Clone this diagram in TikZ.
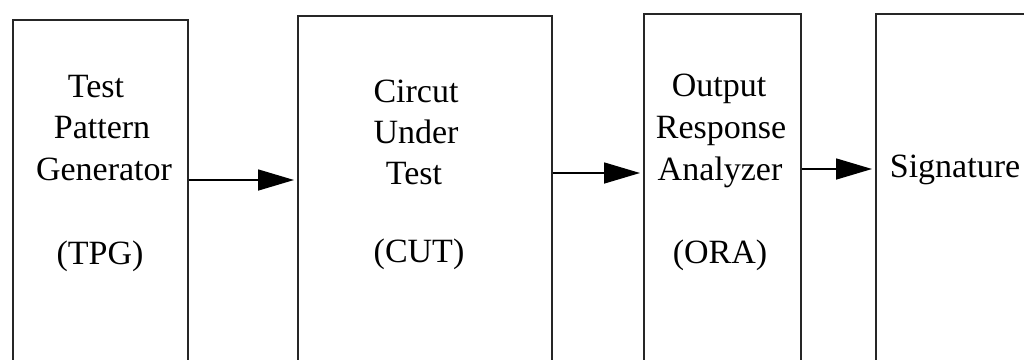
\documentclass[tikz,border=0pt]{standalone}
\usepackage{fontspec}
\setmainfont{Liberation Serif}
\usetikzlibrary{arrows.meta}
\begin{document}
\begin{tikzpicture}[x=1pt,y=-1pt,
  blk/.style={draw=black!85, line width=2pt, anchor=north west, minimum height=420pt, inner sep=0pt},
  lbl/.style={anchor=base, inner sep=0pt, font=\fontsize{34}{41}\selectfont},
  arr/.style={line width=1.6pt, -{Triangle[length=36pt,width=21pt]}}]
\useasboundingbox (0,0) rectangle (1024,359);
\clip (0,0) rectangle (1024,359);
\node[blk, minimum width=175pt] (tpg) at (12,19) {};
\node[blk, minimum width=254pt] (cut) at (297,15) {};
\node[blk, minimum width=157pt] (ora) at (643,13) {};
\node[blk, minimum width=200pt] (sig) at (875,13) {};
% labels
\node[lbl] (t1) at (96,97) {Test};
\node[lbl] (t2) at (102,138) {Pattern};
\node[lbl] (t3) at (104,180) {Generator};
\node[lbl] (t4) at (100,264) {(TPG)};
\node[lbl] (c1) at (416,102) {Circut};
\node[lbl] (c2) at (416,143) {Under};
\node[lbl] (c3) at (414,184) {Test};
\node[lbl] (c4) at (419,262) {(CUT)};
\node[lbl] (o1) at (719,96) {Output};
\node[lbl] (o2) at (721,138) {Response};
\node[lbl] (o3) at (720,180) {Analyzer};
\node[lbl] (o4) at (720,263) {(ORA)};
\node[lbl] (s1) at (955,177) {Signature};
% arrows
\draw[arr] (tpg.east |- 0,180) -- ([xshift=-3pt]cut.west |- 0,180);
\draw[arr] (cut.east |- 0,173) -- ([xshift=-3pt]ora.west |- 0,173);
\draw[arr] (ora.east |- 0,169) -- ([xshift=-3pt]sig.west |- 0,169);
\end{tikzpicture}
\end{document}
